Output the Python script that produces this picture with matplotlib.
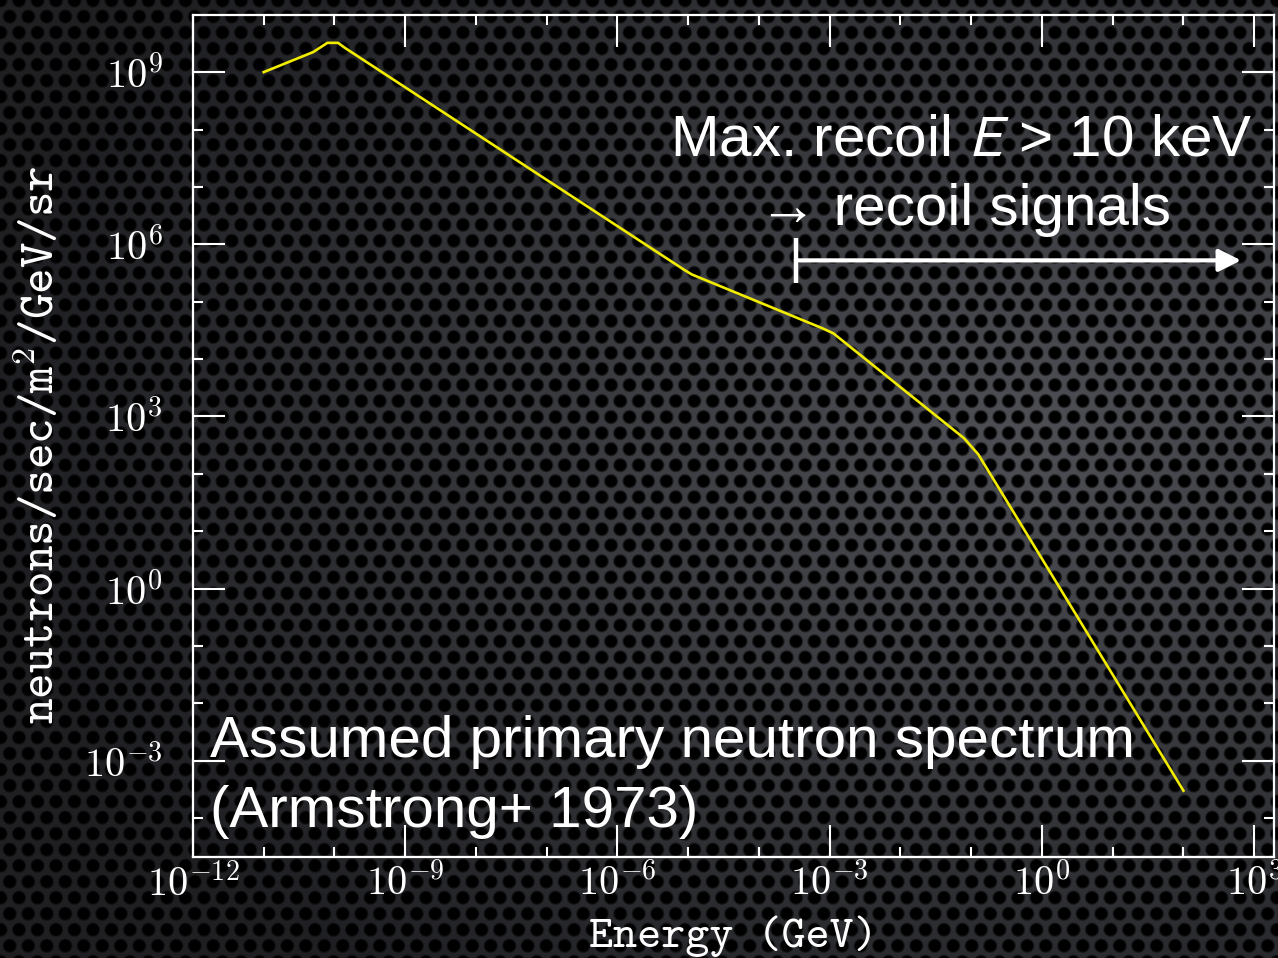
import numpy as np
import matplotlib
matplotlib.use("Agg")
import matplotlib.pyplot as plt
from matplotlib.ticker import FixedLocator, FuncFormatter, NullFormatter

# ---- data ----
energy_log = [-11.0, -10.3, -10.1, -9.95, -9.85, -5.05, -4.95, -3.1, -2.95, -1.1, -0.9, 2.0]
flux_log = [9.0, 9.35, 9.51, 9.51, 9.42, 5.55, 5.475, 4.535, 4.45, 2.62, 2.34, -3.52]
energy = [10.0 ** v for v in energy_log]
flux = [10.0 ** v for v in flux_log]

recoil_start = 10 ** -3.48   # GeV, threshold for 10 keV recoils
recoil_end = 10 ** 2.815
recoil_y = 10 ** 5.72

xticks_major = [10.0 ** p for p in range(-12, 4, 3)]
xticks_minor = [10.0 ** p for p in range(-12, 4)]
yticks_major = [10.0 ** p for p in range(-3, 10, 3)]
yticks_minor = [10.0 ** p for p in range(-4, 11)]

title_line1 = "Max. recoil $E$ > 10 keV"
title_line2 = "\u2192 recoil signals"
note_line1 = "Assumed primary neutron spectrum"
note_line2 = "(Armstrong+ 1973)"
xlabel = "Energy (GeV)"
ylabel = r"neutrons/sec/m$^{\mathtt{2}}$/GeV/sr"

plt.rcParams['mathtext.fontset'] = 'cm'

W, H = 1278, 958
fig = plt.figure(figsize=(W / 100, H / 100), dpi=100)
fig.patch.set_facecolor('#2a2c2e')

# ---- perforated-metal background texture ----
yy, xx = np.mgrid[0:H, 0:W].astype(float)
sx = 18.5
sy = sx * np.sqrt(3) / 2
r = 6.5
dmin = np.full((H, W), 1e9)
r0 = np.floor(yy / sy)
for dr in (-1, 0, 1, 2):
    row = r0 + dr
    off = (row % 2) * sx / 2
    col = np.round((xx - off) / sx)
    for dc in (-1, 0, 1):
        cx = (col + dc) * sx + off
        cy = row * sy
        d = np.hypot(xx - cx, yy - cy)
        dmin = np.minimum(dmin, d)
hole = np.clip((dmin - (r - 1.2)) / 2.4, 0, 1)
vx = (xx - 0.8 * W) / W
vy = (yy - 0.45 * H) / H
vig = np.clip(1.0 - 0.75 * np.hypot(vx, vy * 1.1), 0.4, 1.0)
mesh = 80 * vig
img = np.zeros((H, W, 3))
img[..., 0] = mesh * hole * 0.97
img[..., 1] = mesh * hole * 0.99
img[..., 2] = mesh * hole * 1.03 + 2 * hole
img = np.clip(img, 0, 255) / 255.0
fig.figimage(img, xo=0, yo=0, origin='upper', zorder=-10)

# ---- axes ----
ax = fig.add_axes([193 / W, 1 - 857 / H, (1274 - 193) / W, (857 - 15) / H])
ax.set_facecolor('none')
ax.set_zorder(5)
ax.set_xscale('log')
ax.set_yscale('log')
ax.set_xlim(1e-12, 10 ** 3.28)
ax.set_ylim(10 ** -4.675, 10 ** 9.995)

ax.plot(energy, flux, color='#f2ec00', lw=1.9, zorder=3)

for s in ax.spines.values():
    s.set_color('white')
    s.set_linewidth(1.6)

fmt = FuncFormatter(lambda v, p: r"$10^{%d}$" % int(round(np.log10(v))))
ax.xaxis.set_major_locator(FixedLocator(xticks_major))
ax.xaxis.set_minor_locator(FixedLocator(xticks_minor))
ax.yaxis.set_major_locator(FixedLocator(yticks_major))
ax.yaxis.set_minor_locator(FixedLocator(yticks_minor))
ax.xaxis.set_major_formatter(fmt)
ax.yaxis.set_major_formatter(fmt)
ax.xaxis.set_minor_formatter(NullFormatter())
ax.yaxis.set_minor_formatter(NullFormatter())
ax.tick_params(which='both', direction='in', top=True, right=True,
               color='white', labelcolor='white', width=1.5, labelsize=29)
ax.tick_params(which='major', length=23)
ax.tick_params(which='minor', length=7.5)
ax.tick_params(axis='x', which='major', pad=5)
ax.tick_params(axis='y', which='major', pad=22)

ax.set_xlabel(xlabel, family='cmtt10', fontsize=33, color='white')
ax.set_ylabel(ylabel, family='cmtt10', fontsize=35, color='white')
ax.xaxis.set_label_coords(0.5, -0.069)
ax.yaxis.set_label_coords(-0.118, 0.49)

# ---- annotations ----
sans = ['Liberation Sans', 'DejaVu Sans']
ax.text(0.7105, 0.8337, title_line1, transform=ax.transAxes, ha='center', va='baseline',
        fontsize=42, color='white', family=sans, math_fontfamily='stixsans')
ax.text(0.7141, 0.7506, title_line2, transform=ax.transAxes, ha='center', va='baseline',
        fontsize=42, color='white', family=sans)
ax.text(0.0157, 0.1188, note_line1, transform=ax.transAxes, ha='left', va='baseline',
        fontsize=42, color='white', family=sans)
ax.text(0.0157, 0.0356, note_line2, transform=ax.transAxes, ha='left', va='baseline',
        fontsize=42, color='white', family=sans)

ax.annotate('', xy=(recoil_end, recoil_y), xytext=(recoil_start, recoil_y),
            arrowprops=dict(arrowstyle='-|>', color='white', lw=3, mutation_scale=34,
                            shrinkA=0, shrinkB=0))
ax.vlines(recoil_start, recoil_y / 10 ** 0.39, recoil_y * 10 ** 0.39, color='white', lw=3.2)

fig.savefig('out.png', dpi=100)
